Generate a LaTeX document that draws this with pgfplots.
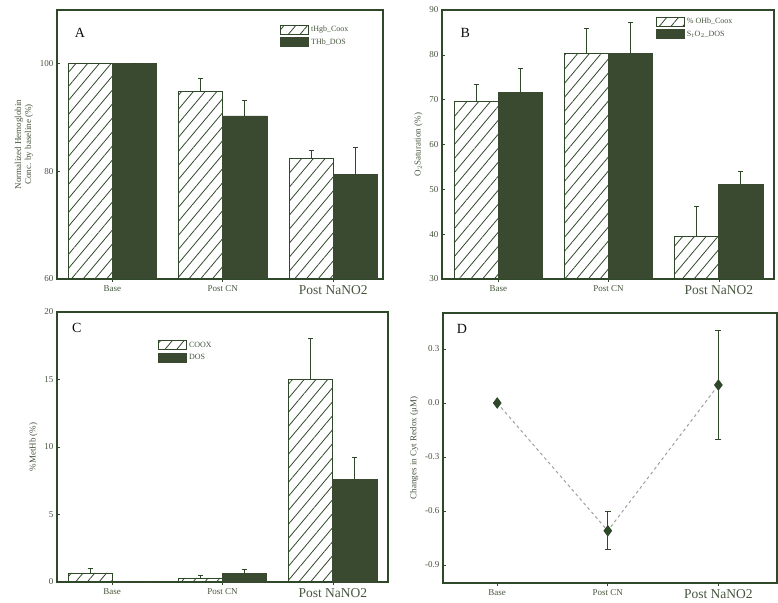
\documentclass[border=0pt]{standalone}
\usepackage{fontspec}
\setmainfont{Liberation Serif}
\usepackage{pgfplots}
\pgfplotsset{compat=1.18}
\usetikzlibrary{patterns.meta}

\definecolor{linecol}{RGB}{47,72,42}
\definecolor{darkbar}{RGB}{58,74,48}
\definecolor{txtcol}{RGB}{70,85,62}

\tikzset{letter/.style={font=\fontsize{14}{14}\selectfont, text=black!80!linecol}}

\pgfplotsset{
  panel/.style={
    scale only axis,
    axis line style={linecol, line width=1.1pt},
    tick style={linecol, line width=0.6pt},
    major tick length=3pt,
    ytick pos=left, xtick pos=bottom, tick align=inside,
    xtick={0,1,2},
    xticklabels={Base, Post CN, {\fontsize{13.5}{13.5}\selectfont Post NaNO2}},
    tick label style={font=\fontsize{9}{9}\selectfont, text=txtcol},
    /pgf/number format/assume math mode=true,
    label style={font=\fontsize{9}{10}\selectfont, text=txtcol},
    legend style={draw=none, fill=none, font=\fontsize{8}{9}\selectfont,
      text=txtcol, row sep=1.5pt, anchor=north west},
    legend cell align=left,
  },
  bars/.style={ybar, bar width=0.4,
    error bars/y dir=plus, error bars/y explicit,
    error bars/error bar style={linecol, line width=1pt},
    error bars/error mark options={linecol, line width=1pt, mark size=2.5pt, rotate=90}},
  boxlegend/.style={/pgfplots/legend image code/.code={\draw[##1] (0pt,-4.5pt) rectangle (28pt,4.5pt);}},
  hatch/.style={draw=linecol, line width=0.9pt, bar shift=-0.2,
    pattern={Lines[angle=50, distance=9pt, line width=0.8pt]}, pattern color=linecol, boxlegend},
  dark/.style={draw=darkbar, fill=darkbar, line width=0.9pt, bar shift=0.2, boxlegend},
}

\begin{document}
\begin{tikzpicture}
\useasboundingbox (0pt,0pt) rectangle (778pt,602pt);

% A
\begin{axis}[panel, bars, at={(57pt,323pt)}, anchor=south west,
  width=326pt, height=269pt, xmin=-0.5, xmax=2.45, ymin=60, ymax=110,
  ytick={60,80,100},
  ylabel={Normalized Hemoglobin\\Conc. by baseline (\%)},
  ylabel style={align=center},
  legend style={at={(0.675,0.955)}}]
\addplot[hatch] coordinates {(0,100) +- (0,0) (1,94.8) +- (0,2.4) (2,82.4) +- (0,1.5)};
\addplot[dark] coordinates {(0,100) +- (0,0) (1,90.3) +- (0,2.8) (2,79.4) +- (0,5.1)};
\legend{tHgb\_Coox, THb\_DOS}
\node[letter] at (rel axis cs:0.07,0.915) {A};
\end{axis}

% B
\begin{axis}[panel, bars, at={(442pt,323pt)}, anchor=south west,
  width=332pt, height=269pt, xmin=-0.51, xmax=2.5, ymin=30, ymax=90,
  ytick={30,40,...,90},
  ylabel={O$_2$Saturation (\%)},
  legend style={at={(0.635,0.985)}}]
\addplot[hatch] coordinates {(0,69.5) +- (0,3.8) (1,80.2) +- (0,5.6) (2,39.4) +- (0,6.8)};
\addplot[dark] coordinates {(0,71.6) +- (0,5.4) (1,80.2) +- (0,7.0) (2,51.0) +- (0,2.9)};
\legend{\% OHb\_Coox, S$_t$O$_2$\_DOS}
\node[letter] at (rel axis cs:0.07,0.915) {B};
\end{axis}

% C
\begin{axis}[panel, bars, at={(57pt,20pt)}, anchor=south west,
  width=331pt, height=270pt, xmin=-0.5, xmax=2.5, ymin=0, ymax=20,
  ytick={0,5,...,20},
  ylabel={\%MetHb (\%)},
  legend style={at={(0.296,0.905)}}]
\addplot[hatch] coordinates {(0,0.67) +- (0,0.3) (1,0.3) +- (0,0.2) (2,15.0) +- (0,3.0)};
\addplot[dark] coordinates {(0,0) +- (0,0) (1,0.62) +- (0,0.3) (2,7.6) +- (0,1.6)};
\legend{COOX, DOS}
\node[letter] at (rel axis cs:0.06,0.94) {C};
\end{axis}

% D
\begin{axis}[panel, at={(443pt,19pt)}, anchor=south west,
  width=334pt, height=270pt, xmin=-0.49, xmax=2.53, ymin=-1.0, ymax=0.5,
  ytick={-0.9,-0.6,-0.3,0,0.3},
  yticklabel style={/pgf/number format/.cd, fixed, fixed zerofill, precision=1},
  xtick align=outside,
  ylabel={Changes in Cyt Redox (μM)}]
\addplot[dashed, gray!75, line width=1pt, mark=diamond*, mark size=5pt,
  mark options={solid, fill=linecol, draw=linecol},
  error bars/.cd, y dir=both, y explicit,
  error bar style={solid, linecol, line width=1pt},
  error mark options={linecol, line width=1pt, mark size=3pt, rotate=90}]
  coordinates {(0,0) +- (0,0) (1,-0.71) +- (0,0.105) (2,0.1) +- (0,0.3)};
\node[letter] at (rel axis cs:0.057,0.94) {D};
\end{axis}
\end{tikzpicture}
\end{document}
